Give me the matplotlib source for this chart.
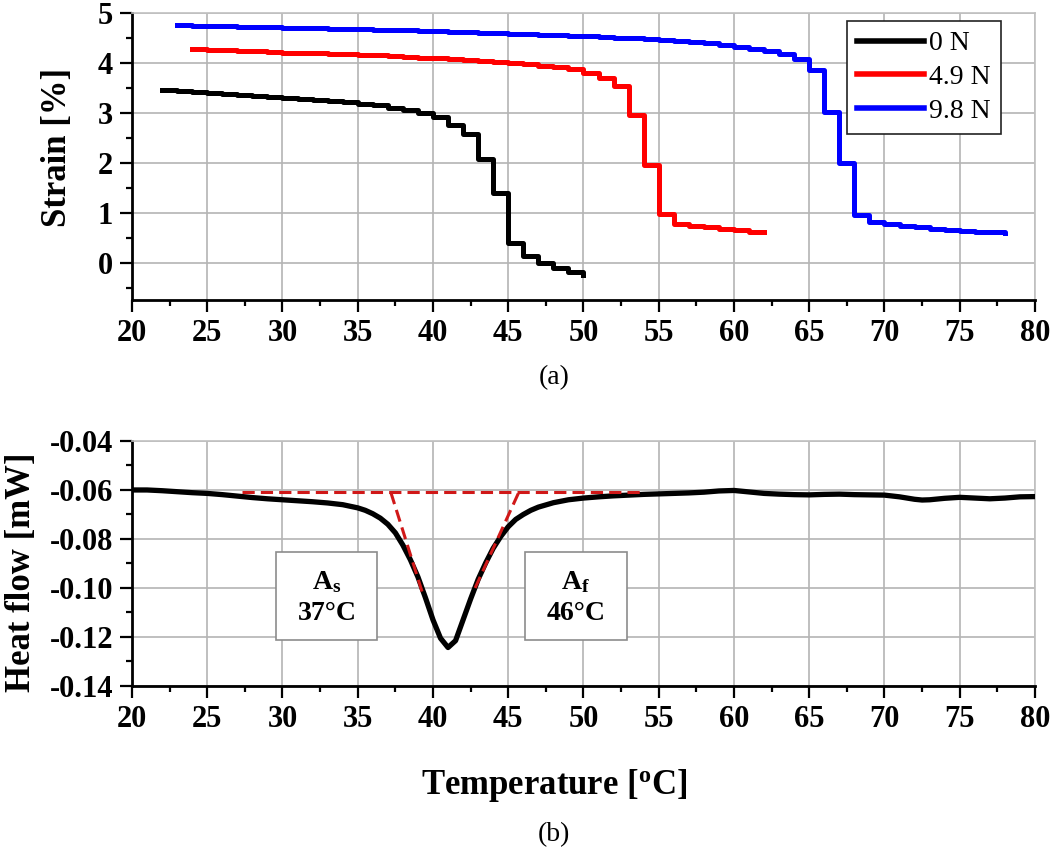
import numpy as np
import matplotlib
matplotlib.use("Agg")
import matplotlib.pyplot as plt
from matplotlib.patches import Rectangle
from matplotlib.ticker import MultipleLocator, FormatStrFormatter

plt.rcParams['font.family'] = ['Liberation Serif', 'DejaVu Serif']
plt.rcParams['mathtext.fontset'] = 'custom'
plt.rcParams['mathtext.rm'] = 'Liberation Serif:bold'
plt.rcParams['mathtext.it'] = 'Liberation Serif:bold'
plt.rcParams['axes.unicode_minus'] = False

# ---- (a) strain vs temperature, 1 degree steps ----
temp_0N = list(range(22, 51))
strain_0N = [3.45, 3.43, 3.41, 3.39, 3.37, 3.35, 3.33, 3.32, 3.30, 3.28,
             3.26, 3.24, 3.21, 3.18, 3.15, 3.10, 3.05, 3.00, 2.92, 2.76,
             2.58, 2.08, 1.40, 0.40, 0.14, 0.00, -0.10, -0.18, -0.25]

temp_49N = list(range(24, 63))
strain_49N = [4.28, 4.27, 4.26, 4.25, 4.24, 4.22, 4.21, 4.20, 4.19, 4.18,
              4.17, 4.16, 4.15, 4.13, 4.12, 4.10, 4.09, 4.07, 4.06, 4.04,
              4.02, 4.00, 3.97, 3.94, 3.91, 3.87, 3.80, 3.70, 3.53, 2.96,
              1.96, 0.98, 0.78, 0.74, 0.71, 0.68, 0.65, 0.62, 0.61]

temp_98N = list(range(23, 79))
strain_98N = [4.76, 4.75, 4.75, 4.74, 4.73, 4.73, 4.72, 4.71, 4.71, 4.70,
              4.69, 4.69, 4.68, 4.67, 4.66, 4.66, 4.65, 4.64, 4.63, 4.62,
              4.61, 4.60, 4.59, 4.58, 4.57, 4.56, 4.55, 4.54, 4.53, 4.51,
              4.50, 4.48, 4.46, 4.44, 4.42, 4.40, 4.37, 4.33, 4.29, 4.25,
              4.18, 4.07, 3.86, 3.02, 1.99, 0.95, 0.81, 0.77, 0.74, 0.71,
              0.68, 0.66, 0.64, 0.62, 0.61, 0.60]

labels = ['0 N', '4.9 N', '9.8 N']
colors = ['black', '#ff0000', '#0000ff']

# ---- (b) DSC heat flow ----
temp_hf = [20, 21, 22, 23, 24, 25, 26, 27, 28, 29, 30, 31, 32, 33, 34, 35,
           35.5, 36, 36.5, 37, 37.5, 38, 38.5, 39, 39.5, 40, 40.5, 41, 41.5,
           42, 42.5, 43, 43.5, 44, 44.5, 45, 45.5, 46, 46.5, 47, 48, 49, 50,
           51, 52, 53, 54, 55, 56, 57, 58, 59, 60, 61, 62, 63, 64, 65, 66,
           67, 68, 69, 70, 71, 72, 72.5, 73, 74, 75, 76, 77, 78, 79, 80]
heat_flow = [-0.0600, -0.0600, -0.0603, -0.0607, -0.0611, -0.0614, -0.0619,
             -0.0625, -0.0631, -0.0636, -0.0640, -0.0644, -0.0648, -0.0653,
             -0.0660, -0.0673, -0.0683, -0.0697, -0.0715, -0.0740, -0.0775,
             -0.0825, -0.0885, -0.0955, -0.1040, -0.1130, -0.1205, -0.1243,
             -0.1215, -0.1130, -0.1045, -0.0965, -0.0898, -0.0838, -0.0790,
             -0.0750, -0.0720, -0.0700, -0.0683, -0.0670, -0.0652, -0.0640,
             -0.0633, -0.0628, -0.0624, -0.0621, -0.0618, -0.0616, -0.0614,
             -0.0612, -0.0609, -0.0604, -0.0602, -0.0608, -0.0614, -0.0617,
             -0.0619, -0.0620, -0.0618, -0.0617, -0.0619, -0.0620, -0.0621,
             -0.0628, -0.0638, -0.0641, -0.0640, -0.0634, -0.0630, -0.0633,
             -0.0636, -0.0633, -0.0628, -0.0627]

# tangent construction (dashed)
base_x, base_y = [27.3, 54.0], [-0.061, -0.061]
tan_as_x, tan_as_y = [37.2, 39.3], [-0.061, -0.102]
tan_af_x, tan_af_y = [42.8, 45.7], [-0.100, -0.061]

# label boxes: (x0, x1, y0, y1, title, value)
boxes = [(29.6, 36.3, -0.1212, -0.0852, r'A$_{\mathrm{s}}$', '37°C'),
         (46.1, 52.9, -0.1212, -0.0852, r'A$_{\mathrm{f}}$', '46°C')]

fig = plt.figure(figsize=(10.5, 8.49), dpi=100)
ax1 = fig.add_axes([0.1257, 0.6466, 0.86, 0.338])
ax2 = fig.add_axes([0.1257, 0.192, 0.86, 0.2886])


def style(ax):
    ax.grid(True, which='major', color='#b4b4b4', lw=1.2)
    ax.set_axisbelow(True)
    for s in ['left', 'bottom']:
        ax.spines[s].set_linewidth(2)
    for s in ['top', 'right']:
        ax.spines[s].set_color('#c0c0c0')
        ax.spines[s].set_linewidth(1.2)
    ax.tick_params(which='major', direction='out', length=8.5, width=1.6,
                   labelsize=22, pad=5)
    ax.tick_params(which='minor', direction='out', length=4, width=1.6)
    ax.tick_params(top=False, right=False, which='both')
    for t in ax.get_xticklabels() + ax.get_yticklabels():
        t.set_fontweight('bold')
    ax.xaxis.set_major_locator(MultipleLocator(5))
    ax.xaxis.set_minor_locator(MultipleLocator(2.5))
    ax.set_xlim(20, 80)


for x, y, lab, c in zip([temp_0N, temp_49N, temp_98N],
                        [strain_0N, strain_49N, strain_98N], labels, colors):
    ax1.plot(x, y, drawstyle='steps-post', color=c, lw=3.6, label=lab)
ax1.set_ylim(-0.75, 5)
ax1.yaxis.set_major_locator(MultipleLocator(1))
ax1.yaxis.set_minor_locator(MultipleLocator(0.5))
style(ax1)
ax1.set_ylabel('Strain [%]', fontsize=25, fontweight='bold')
ax1.yaxis.set_label_coords(-0.064, 0.533)
leg = ax1.legend(loc='upper right', bbox_to_anchor=(0.962, 0.972),
                 borderaxespad=0, fontsize=20, frameon=True, fancybox=False,
                 edgecolor='#222222', framealpha=1, handlelength=2.4,
                 handletextpad=0.2, labelspacing=0.3, borderpad=0.35)
leg.get_frame().set_linewidth(1.2)
for line in leg.get_lines():
    line.set_linewidth(4)

ax2.plot(temp_hf, heat_flow, color='black', lw=3.8, zorder=3)
for xs, ys in [(base_x, base_y), (tan_as_x, tan_as_y), (tan_af_x, tan_af_y)]:
    ax2.plot(xs, ys, color='#d01818', lw=2.2, ls=(0, (4, 2)), zorder=4)
for x0, x1, y0, y1, title, val in boxes:
    ax2.add_patch(Rectangle((x0, y0), x1 - x0, y1 - y0, facecolor='white',
                            edgecolor='#8c8c8c', lw=1.2, zorder=5))
    xc = (x0 + x1) / 2
    ax2.text(xc, y0 + (y1 - y0) * 0.66, title, ha='center', va='center',
             fontsize=20, fontweight='bold', zorder=6)
    ax2.text(xc, y0 + (y1 - y0) * 0.3, val, ha='center', va='center',
             fontsize=20, fontweight='bold', zorder=6)
ax2.set_ylim(-0.14, -0.04)
ax2.yaxis.set_major_locator(MultipleLocator(0.02))
ax2.yaxis.set_minor_locator(MultipleLocator(0.01))
ax2.yaxis.set_major_formatter(FormatStrFormatter('%.2f'))
style(ax2)
ax2.set_ylabel('Heat flow [mW]', fontsize=25, fontweight='bold')
ax2.yaxis.set_label_coords(-0.104, 0.465)

fig.text(0.528, 1 - 378 / 849, '(a)', ha='center', va='center', fontsize=20)
fig.text(0.528, 1 - 785 / 849, r'Temperature [$^{\mathrm{o}}$C]',
         ha='center', va='center', fontsize=25, fontweight='bold')
fig.text(0.528, 1 - 835 / 849, '(b)', ha='center', va='center', fontsize=20)

fig.savefig('out.png', dpi=100, facecolor='white')
